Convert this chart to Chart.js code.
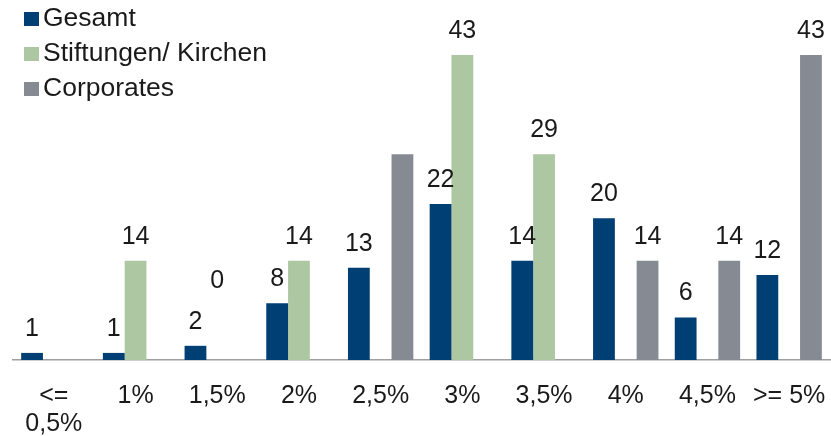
<!DOCTYPE html>
<html>
<head>
<meta charset="utf-8">
<script src="https://cdn.jsdelivr.net/npm/chart.js@4"></script>
<style>
    html, body { margin: 0; padding: 0; background: #fff; overflow: hidden; }
    #wrap { width: 831px; height: 436px; position: relative; }
    canvas { display: block; }
</style>
</head>
<body>
<div id="wrap"><canvas id="chart"></canvas></div>
<script>
let categorias = [['<=', '0,5%'], '1%', '1,5%', '2%', '2,5%', '3%', '3,5%', '4%', '4,5%', '>= 5%'];
let gesamt = [1, 1, 2, 8, 13, 22, 14, 20, 6, 12];
let stiftungen = [0, 14, 0, 14, 0, 43, 29, 0, 0, 0];
let corporates = [0, 0, 0, 0, 29, 0, 0, 14, 14, 43];

// etiquetas visibles (null = sin etiqueta)
let gesamtEtiquetas = [1, 1, 2, 8, 13, 22, 14, 20, 6, 12];
let stiftungenEtiquetas = [null, 14, 0, 14, null, 43, 29, null, null, null];
let corporatesEtiquetas = [null, null, null, null, null, null, null, 14, 14, 43];

const fuente = 'Liberation Sans, Arial, sans-serif';
const colorTexto = '#1a1a1a';

const etiquetasPlugin = {
    id: 'etiquetas',
    afterDatasetsDraw(chart) {
        const ctx = chart.ctx;
        ctx.save();
        ctx.font = '25px ' + fuente;
        ctx.fillStyle = colorTexto;
        ctx.textAlign = 'center';
        ctx.textBaseline = 'alphabetic';
        chart.data.datasets.forEach((ds, i) => {
            const meta = chart.getDatasetMeta(i);
            meta.data.forEach((bar, j) => {
                const val = ds.etiquetas[j];
                if (val === null) return;
                // el "0" de Stiftungen en 1,5% aparece más arriba en el original
                const extra = (i === 1 && j === 2) ? 55 : 0;
                ctx.fillText(String(val), bar.x, bar.y - 17 - extra);
            });
        });
        ctx.restore();
    }
};

const leyendaPlugin = {
    id: 'leyenda',
    afterDraw(chart) {
        const ctx = chart.ctx;
        ctx.save();
        ctx.font = '26.5px ' + fuente;
        ctx.textBaseline = 'middle';
        ctx.textAlign = 'left';
        chart.data.datasets.forEach((ds, i) => {
            const y = 19 + i * 35;
            ctx.fillStyle = ds.backgroundColor;
            ctx.fillRect(24, y - 7, 15, 14);
            ctx.fillStyle = colorTexto;
            ctx.fillText(ds.label, 43, y);
        });
        ctx.restore();
    }
};

document.addEventListener('DOMContentLoaded', function () {
    const ctx = document.getElementById('chart');
    new Chart(ctx, {
        type: 'bar',
        data: {
            labels: categorias,
            datasets: [
                { label: 'Gesamt', data: gesamt, etiquetas: gesamtEtiquetas, backgroundColor: '#003f73' },
                { label: 'Stiftungen/ Kirchen', data: stiftungen, etiquetas: stiftungenEtiquetas, backgroundColor: '#adc7a3' },
                { label: 'Corporates', data: corporates, etiquetas: corporatesEtiquetas, backgroundColor: '#868a92' }
            ]
        },
        options: {
            responsive: true,
            maintainAspectRatio: false,
            animation: false,
            layout: { padding: { left: 13, right: 1, top: 55, bottom: 0 } },
            datasets: { bar: { categoryPercentage: 0.8, barPercentage: 1.0 } },
            plugins: {
                legend: { display: false },
                tooltip: { enabled: false }
            },
            scales: {
                x: {
                    // la separación vertical va en tickLength para no encoger el área por los lados
                    grid: { display: false, drawTicks: true, tickLength: 22 },
                    border: { display: true, color: '#a0a0a0', width: 1.5 },
                    ticks: {
                        color: colorTexto,
                        font: { family: fuente, size: 25, lineHeight: 1.13 },
                        padding: 0,
                        maxRotation: 0,
                        autoSkip: false
                    },
                    afterFit(scale) { scale.height = 76; }
                },
                y: {
                    display: false,
                    min: 0,
                    max: 43
                }
            }
        },
        plugins: [etiquetasPlugin, leyendaPlugin]
    });
});
</script>
</body>
</html>
